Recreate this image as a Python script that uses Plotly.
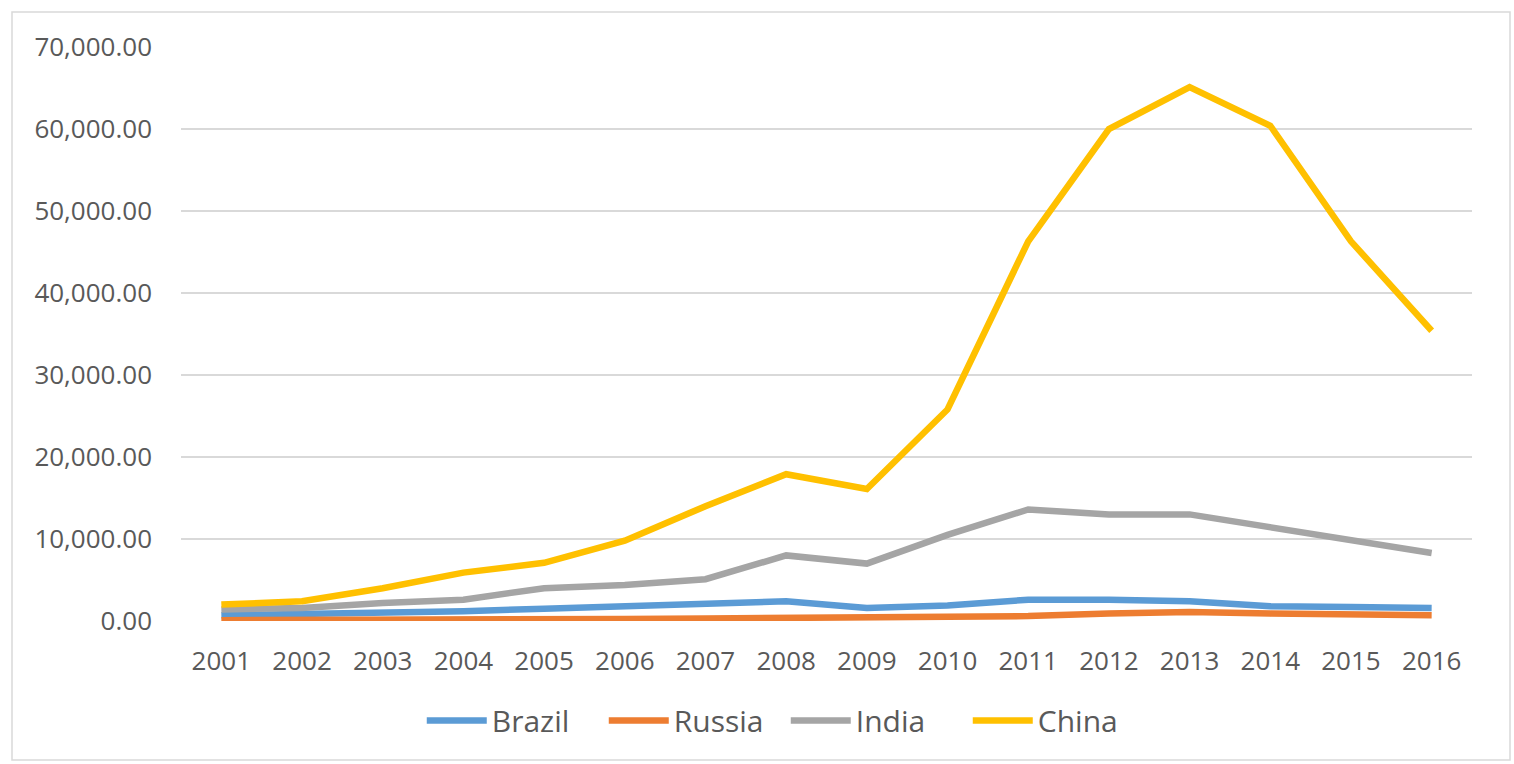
import plotly.graph_objects as go

years = [str(y) for y in range(2001, 2017)]
brazil = [700, 850, 1000, 1200, 1500, 1800, 2200, 2400, 1600, 1900, 2600, 2600, 2400, 1800, 1700, 1600]
russia = [100, 100, 150, 200, 200, 250, 300, 400, 400, 500, 600, 900, 1100, 900, 800, 700]
india = [1400, 1600, 2200, 2600, 4000, 4400, 5100, 8000, 7000, 10500, 13600, 13000, 13000, 11500, 9900, 8300]
china = [2000, 2400, 4000, 5900, 7100, 9800, 14000, 17900, 16100, 25800, 46300, 60000, 65100, 60400, 46300, 35400]

series = [
    ("Brazil", brazil, "#5B9BD5"),
    ("Russia", russia, "#ED7D31"),
    ("India", india, "#A5A5A5"),
    ("China", china, "#FFC000"),
]

FONT = "Open Sans, sans-serif"

fig = go.Figure()
for name, vals, color in series:
    fig.add_trace(go.Scatter(x=years, y=vals, name=name, mode="lines",
                             line=dict(color=color, width=6.5)))

fig.update_layout(
    width=1514, height=764,
    margin=dict(l=181, r=42, t=47, b=143),
    paper_bgcolor="white", plot_bgcolor="white",
    font=dict(family=FONT, size=26, color="#595959"),
    showlegend=True,
    legend=dict(orientation="h", xref="container", x=0.519, xanchor="center",
                yref="container", y=0.057, yanchor="middle",
                font=dict(size=30, color="#595959"), itemwidth=60,
                entrywidth=107, entrywidthmode="pixels",
                traceorder="normal"),
    xaxis=dict(type="category", range=[-0.5, 15.5], showgrid=False,
               showline=False, ticks="", zeroline=False,
               ticklabelstandoff=22, tickfont=dict(size=26)),
    yaxis=dict(range=[0, 70000], dtick=10000, tickformat=",.2f",
               showgrid=True, gridcolor="#D9D9D9", gridwidth=1.5,
               zeroline=False, showline=False, ticks="",
               ticklabelstandoff=28, tickfont=dict(size=26)),
    shapes=[dict(type="rect", xref="paper", yref="paper",
                 x0=(12 - 181) / 1291, x1=(1510 - 181) / 1291,
                 y0=(621 - 760) / 574, y1=(621 - 12) / 574,
                 line=dict(color="#D9D9D9", width=1.5), layer="below")],
)

fig.write_html("out.html", config={"displayModeBar": False},
               post_script="document.body.style.margin='0';")
